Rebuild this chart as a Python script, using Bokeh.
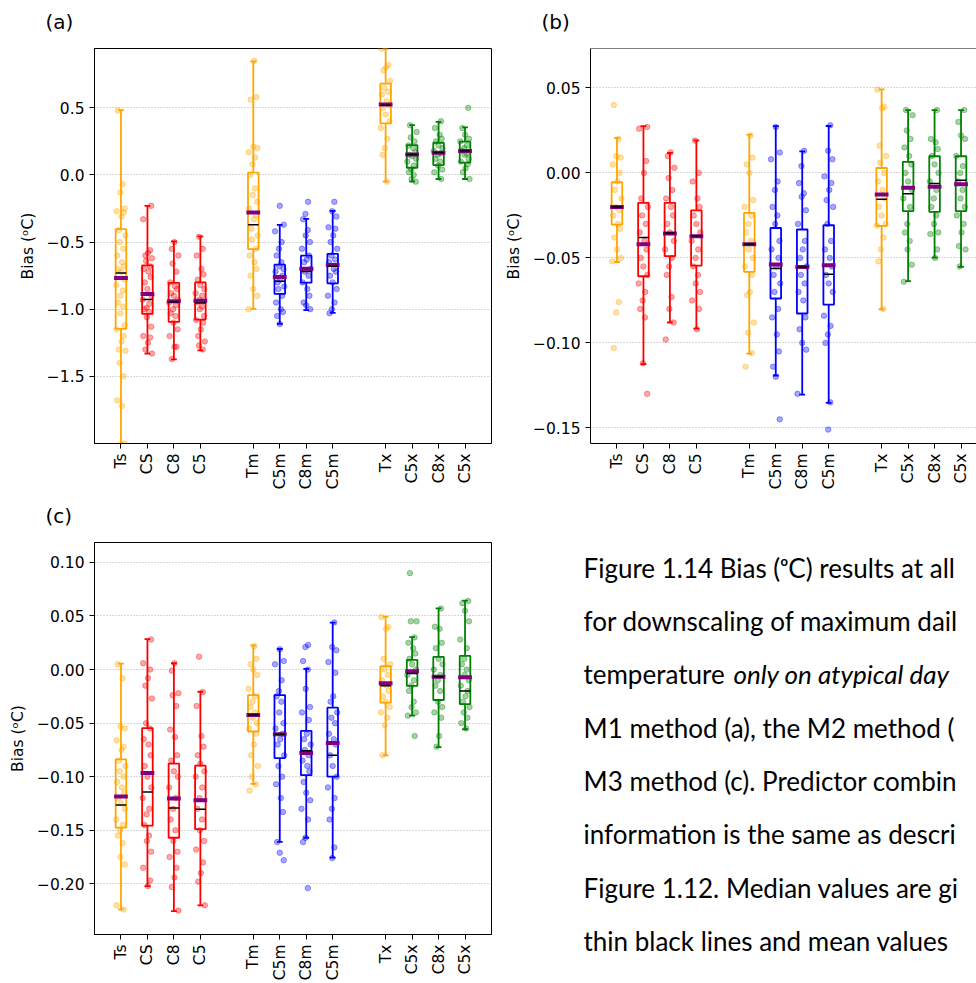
import math
from bokeh.plotting import figure
from bokeh.layouts import column, row
from bokeh.models import Range1d, FixedTicker, Span, ColumnDataSource
from bokeh.embed import file_html
from bokeh.resources import INLINE
from bokeh.core.properties import value

# ---------------- data ----------------
positions = [1, 2, 3, 4, 6, 7, 8, 9, 11, 12, 13, 14]
categories = ["Ts", "CS", "C8", "C5", "Tm", "C5m", "C8m", "C5m", "Tx", "C5x", "C8x", "C5x"]
box_colors = ["orange", "red", "red", "red", "orange", "blue", "blue", "blue",
              "orange", "green", "green", "green"]

# panel (a)
a_q1 = [-1.146, -1.035, -1.094, -1.077, -0.552, -0.886, -0.802, -0.807, 0.384, 0.054, 0.074, 0.092]
a_q3 = [-0.403, -0.673, -0.804, -0.800, 0.017, -0.668, -0.601, -0.587, 0.681, 0.223, 0.240, 0.248]
a_med = [-0.730, -0.928, -0.946, -0.953, -0.371, -0.792, -0.718, -0.680, 0.520, 0.153, 0.168, 0.178]
a_mean = [-0.767, -0.886, -0.940, -0.936, -0.280, -0.760, -0.698, -0.671, 0.525, 0.153, 0.166, 0.178]
a_wlo = [-2.000, -1.330, -1.374, -1.307, -0.998, -1.109, -1.007, -1.027, -0.050, -0.050, -0.030, -0.030]
a_whi = [0.483, -0.230, -0.495, -0.458, 0.846, -0.371, -0.327, -0.267, 0.940, 0.371, 0.396, 0.354]
a_pts = [
    [0.48, -0.07, -0.13, -0.25, -0.27, -0.28, -0.31, -0.41, -0.45, -0.5, -0.55, -0.6, -0.65, -0.68, -0.7,
     -0.72, -0.78, -0.82, -0.86, -0.9, -0.95, -0.98, -1.03, -1.12, -1.15, -1.2, -1.24, -1.3, -1.31, -1.4,
     -1.5, -1.68, -1.72, -2.0],
    [-0.23, -0.33, -0.56, -0.58, -0.6, -0.62, -0.64, -0.68, -0.7, -0.72, -0.76, -0.8, -0.85, -0.9, -0.93,
     -0.96, -0.99, -1.0, -1.02, -1.06, -1.13, -1.2, -1.21, -1.25, -1.3, -1.33],
    [-0.5, -0.55, -0.6, -0.66, -0.72, -0.8, -0.83, -0.85, -0.88, -0.9, -0.93, -0.95, -0.97, -1.0, -1.03,
     -1.05, -1.1, -1.15, -1.2, -1.28, -1.28, -1.37],
    [-0.46, -0.55, -0.6, -0.7, -0.74, -0.78, -0.82, -0.85, -0.88, -0.9, -0.93, -0.95, -0.98, -1.0, -1.05,
     -1.08, -1.1, -1.15, -1.2, -1.24, -1.27, -1.3],
    [0.85, 0.58, 0.56, 0.21, 0.2, 0.17, 0.13, 0.08, 0.0, -0.1, -0.15, -0.2, -0.25, -0.3, -0.33, -0.4, -0.45,
     -0.48, -0.55, -0.6, -0.65, -0.7, -0.75, -0.85, -0.9, -1.0],
    [-0.23, -0.37, -0.42, -0.5, -0.55, -0.6, -0.65, -0.68, -0.7, -0.72, -0.75, -0.78, -0.8, -0.83, -0.85,
     -0.9, -0.95, -1.0, -1.02, -1.05, -1.11],
    [-0.2, -0.29, -0.33, -0.41, -0.45, -0.5, -0.55, -0.6, -0.63, -0.65, -0.7, -0.72, -0.75, -0.8, -0.85,
     -0.9, -0.95, -0.97, -1.0],
    [-0.2, -0.27, -0.31, -0.39, -0.4, -0.45, -0.5, -0.55, -0.6, -0.63, -0.65, -0.7, -0.72, -0.75, -0.8,
     -0.85, -0.9, -0.95, -1.0, -1.03],
    [0.94, 0.82, 0.8, 0.78, 0.7, 0.65, 0.62, 0.6, 0.55, 0.52, 0.5, 0.45, 0.4, 0.35, 0.27, 0.2, 0.15, -0.05],
    [0.37, 0.32, 0.28, 0.25, 0.22, 0.2, 0.17, 0.15, 0.14, 0.12, 0.1, 0.07, 0.04, 0.02, 0.0, -0.03, -0.05],
    [0.4, 0.35, 0.3, 0.27, 0.25, 0.22, 0.2, 0.18, 0.16, 0.15, 0.12, 0.1, 0.07, 0.04, 0.02, -0.03],
    [0.5, 0.35, 0.3, 0.27, 0.25, 0.22, 0.2, 0.18, 0.16, 0.15, 0.12, 0.1, 0.08, 0.05, 0.02, -0.03],
]
a_yticks = [0.5, 0.0, -0.5, -1.0, -1.5]
a_ylabels = ["0.5", "0.0", "\u22120.5", "\u22121.0", "\u22121.5"]

# panel (b)
b_q1 = [-0.0304, -0.0608, -0.049, -0.0545, -0.0582, -0.0739, -0.0827, -0.0775, -0.0312, -0.0225, -0.0229, -0.0225]
b_q3 = [-0.0055, -0.0176, -0.0176, -0.022, -0.0235, -0.0324, -0.0333, -0.0308, 0.0029, 0.0065, 0.0098, 0.0098]
b_med = [-0.020, -0.038, -0.0353, -0.0369, -0.042, -0.0563, -0.0553, -0.0596, -0.0155, -0.0122, -0.0063, -0.0043]
b_mean = [-0.020, -0.042, -0.0357, -0.0373, -0.042, -0.0539, -0.0553, -0.0543, -0.0127, -0.0088, -0.0082, -0.0067]
b_wlo = [-0.0524, -0.1125, -0.088, -0.0916, -0.1063, -0.1192, -0.1304, -0.1353, -0.0802, -0.0637, -0.0498, -0.0553]
b_whi = [0.0206, 0.0275, 0.0118, 0.0192, 0.0225, 0.0275, 0.0127, 0.0276, 0.0492, 0.0369, 0.0369, 0.0369]
b_pts = [
    [0.04, 0.02, 0.01, 0.009, 0.005, 0.0, -0.005, -0.01, -0.015, -0.02, -0.022, -0.025, -0.03, -0.033,
     -0.038, -0.045, -0.05, -0.052, -0.076, -0.082, -0.103],
    [0.027, 0.026, 0.007, 0.0, -0.015, -0.02, -0.025, -0.03, -0.035, -0.04, -0.045, -0.05, -0.055, -0.06,
     -0.065, -0.07, -0.075, -0.08, -0.085, -0.112, -0.13],
    [0.012, 0.01, 0.003, -0.003, -0.01, -0.015, -0.02, -0.025, -0.03, -0.035, -0.04, -0.045, -0.05, -0.055,
     -0.06, -0.073, -0.08, -0.088, -0.098],
    [0.019, 0.0, -0.005, -0.015, -0.02, -0.025, -0.03, -0.035, -0.04, -0.045, -0.05, -0.055, -0.06, -0.065,
     -0.07, -0.075, -0.08, -0.092],
    [0.022, 0.009, 0.005, 0.0, -0.016, -0.02, -0.025, -0.03, -0.035, -0.04, -0.045, -0.05, -0.055, -0.06,
     -0.07, -0.072, -0.088, -0.094, -0.106, -0.114],
    [0.027, 0.012, 0.008, -0.005, -0.01, -0.02, -0.025, -0.03, -0.04, -0.045, -0.05, -0.055, -0.06, -0.065,
     -0.07, -0.08, -0.085, -0.095, -0.105, -0.114, -0.12, -0.145],
    [0.013, 0.004, -0.006, -0.012, -0.014, -0.022, -0.03, -0.04, -0.045, -0.05, -0.055, -0.06, -0.065, -0.07,
     -0.075, -0.085, -0.092, -0.1, -0.104, -0.13],
    [0.028, 0.013, 0.008, -0.002, -0.006, -0.01, -0.016, -0.02, -0.03, -0.04, -0.045, -0.05, -0.055, -0.06,
     -0.065, -0.07, -0.084, -0.09, -0.095, -0.1, -0.135, -0.151],
    [0.049, 0.039, 0.038, 0.016, 0.01, 0.006, 0.0, -0.005, -0.01, -0.015, -0.02, -0.025, -0.03, -0.031,
     -0.038, -0.045, -0.052, -0.08],
    [0.037, 0.034, 0.025, 0.02, 0.015, 0.01, 0.005, 0.0, -0.005, -0.01, -0.015, -0.02, -0.03, -0.035, -0.04,
     -0.045, -0.054, -0.064],
    [0.037, 0.02, 0.018, 0.014, 0.01, 0.005, 0.0, -0.005, -0.01, -0.015, -0.02, -0.025, -0.03, -0.035,
     -0.036, -0.045, -0.05],
    [0.037, 0.03, 0.022, 0.02, 0.01, 0.004, 0.0, -0.005, -0.01, -0.015, -0.02, -0.025, -0.03, -0.035, -0.043,
     -0.045, -0.055],
]
b_yticks = [0.05, 0.0, -0.05, -0.10, -0.15]
b_ylabels = ["0.05", "0.00", "\u22120.05", "\u22120.10", "\u22120.15"]

# panel (c)
c_q1 = [-0.1475, -0.1456, -0.157, -0.149, -0.0578, -0.0826, -0.0986, -0.0999, -0.0309, -0.0152, -0.0284, -0.0322]
c_q3 = [-0.0838, -0.0547, -0.0878, -0.0897, -0.0238, -0.0238, -0.0572, -0.0356, 0.0031, 0.009, 0.0118, 0.0127]
c_med = [-0.1265, -0.1144, -0.1293, -0.1305, -0.0424, -0.0603, -0.0758, -0.0801, -0.0152, -0.0037, -0.0068, -0.0201]
c_mean = [-0.1184, -0.0965, -0.1203, -0.1221, -0.0424, -0.0603, -0.0779, -0.0686, -0.0127, -0.0015, -0.0068, -0.0071]
c_wlo = [-0.2239, -0.2022, -0.2254, -0.2202, -0.1067, -0.1608, -0.157, -0.1756, -0.0801, -0.043, -0.0724, -0.0557]
c_whi = [0.0056, 0.0284, 0.0059, -0.0207, 0.0226, 0.0192, 0.0006, 0.0439, 0.0495, 0.0303, 0.0572, 0.0643]
c_pts = [
    [0.005, -0.008, -0.053, -0.055, -0.066, -0.072, -0.075, -0.085, -0.09, -0.095, -0.1, -0.105, -0.11, -0.115,
     -0.12, -0.125, -0.13, -0.14, -0.145, -0.15, -0.155, -0.162, -0.175, -0.182, -0.22, -0.224],
    [0.028, 0.006, 0.0, -0.008, -0.015, -0.027, -0.05, -0.055, -0.065, -0.07, -0.08, -0.09, -0.1, -0.11,
     -0.12, -0.13, -0.135, -0.145, -0.155, -0.16, -0.17, -0.185, -0.197, -0.202],
    [0.006, -0.001, -0.022, -0.024, -0.034, -0.056, -0.063, -0.08, -0.085, -0.095, -0.1, -0.11, -0.12, -0.13,
     -0.14, -0.15, -0.16, -0.17, -0.175, -0.185, -0.194, -0.203, -0.225],
    [0.012, -0.021, -0.034, -0.062, -0.072, -0.08, -0.088, -0.095, -0.1, -0.11, -0.12, -0.13, -0.14, -0.15,
     -0.16, -0.168, -0.18, -0.19, -0.198, -0.22],
    [0.022, 0.01, 0.005, 0.0, -0.005, -0.018, -0.025, -0.03, -0.035, -0.04, -0.045, -0.05, -0.055, -0.06,
     -0.07, -0.08, -0.09, -0.1, -0.107, -0.113],
    [0.019, 0.008, 0.005, -0.01, -0.02, -0.025, -0.03, -0.04, -0.05, -0.055, -0.06, -0.065, -0.07, -0.08,
     -0.09, -0.1, -0.107, -0.12, -0.133, -0.161, -0.171, -0.178],
    [0.023, 0.021, 0.008, 0.0, -0.018, -0.035, -0.04, -0.047, -0.06, -0.065, -0.07, -0.075, -0.08, -0.085,
     -0.09, -0.095, -0.105, -0.115, -0.122, -0.13, -0.14, -0.157, -0.161, -0.204],
    [0.044, 0.021, 0.018, 0.007, -0.003, -0.025, -0.03, -0.04, -0.045, -0.05, -0.06, -0.065, -0.07, -0.08,
     -0.09, -0.1, -0.11, -0.12, -0.13, -0.14, -0.166, -0.176],
    [0.049, 0.04, 0.038, 0.01, 0.005, 0.0, -0.005, -0.01, -0.015, -0.02, -0.025, -0.03, -0.035, -0.04,
     -0.045, -0.052, -0.08],
    [0.09, 0.045, 0.045, 0.03, 0.025, 0.02, 0.015, 0.01, 0.005, 0.0, -0.005, -0.01, -0.015, -0.02, -0.03,
     -0.035, -0.04, -0.043, -0.062],
    [0.057, 0.04, 0.038, 0.025, 0.02, 0.01, 0.005, 0.0, -0.005, -0.01, -0.015, -0.02, -0.03, -0.035, -0.04,
     -0.045, -0.062, -0.072],
    [0.064, 0.062, 0.055, 0.045, 0.028, 0.02, 0.01, 0.005, 0.0, -0.005, -0.01, -0.015, -0.02, -0.025, -0.03,
     -0.035, -0.04, -0.045, -0.05, -0.055],
]
c_yticks = [0.10, 0.05, 0.0, -0.05, -0.10, -0.15, -0.20]
c_ylabels = ["0.10", "0.05", "0.00", "\u22120.05", "\u22120.10", "\u22120.15", "\u22120.20"]

panel_letters_top = ["(a)", "(b)"]
panel_letters_bottom = ["(c)"]

caption_lines = [
    "Figure 1.14 Bias (\u1d52C) results at all",
    "for downscaling of maximum dail",
    "temperature",
    "M1 method (a), the M2 method (",
    "M3 method (c). Predictor combin",
    "information is the same as descri",
    "Figure 1.12. Median values are gi",
    "thin black lines and mean values",
]
caption_italic = "only on atypical day"

# ---------------- style ----------------
JITTER = [-0.12, 0.06, -0.02, 0.14, -0.16, 0.10, 0.02, -0.08, 0.17, -0.05, 0.09, -0.14, 0.04, 0.12, -0.10,
          0.0, 0.15, -0.18, 0.07, -0.03]
TICK_FONT = "DejaVu Sans"
TICK_SIZE = "15.5px"
MEAN_COLOR = "#800080"
BOX_HALF = 0.2
CAP_HALF = 0.11
MEAN_HALF = 0.26
CAP_FONT = "Lato"
CAP_SIZE = "26px"
W = 976


def text_canvas(width, height):
    """Axis-free figure whose data units are pixels (y downward)."""
    f = figure(width=width, height=height, x_range=Range1d(0, width), y_range=Range1d(height, 0),
               output_backend="svg", toolbar_location=None, title=None,
               min_border_left=0, min_border_right=0, min_border_top=0, min_border_bottom=0,
               x_axis_location=None, y_axis_location=None)
    f.frame_align = False
    f.grid.visible = False
    f.outline_line_color = None
    return f


def make_panel(q1, q3, med, mean, wlo, whi, pts, yticks, ylabels, yrange,
               width, height, border, xend, outline=True):
    p = figure(width=width, height=height, x_range=Range1d(0, xend), y_range=Range1d(*yrange),
               output_backend="svg", toolbar_location=None, title=None,
               min_border_left=border[0], min_border_right=border[1],
               min_border_top=border[2], min_border_bottom=border[3])
    x = positions
    src = ColumnDataSource(dict(
        x=x, q1=q1, q3=q3, med=med, mean=mean, wlo=wlo, whi=whi, color=box_colors,
        bl=[v - BOX_HALF for v in x], br=[v + BOX_HALF for v in x],
        cl=[v - CAP_HALF for v in x], cr=[v + CAP_HALF for v in x],
        ml=[v - MEAN_HALF for v in x], mr=[v + MEAN_HALF for v in x],
    ))
    # whiskers and caps
    p.segment(x0="x", y0="q3", x1="x", y1="whi", line_color="color", line_width=1.8, source=src)
    p.segment(x0="x", y0="q1", x1="x", y1="wlo", line_color="color", line_width=1.8, source=src)
    p.segment(x0="cl", y0="whi", x1="cr", y1="whi", line_color="color", line_width=1.8, source=src)
    p.segment(x0="cl", y0="wlo", x1="cr", y1="wlo", line_color="color", line_width=1.8, source=src)
    # boxes
    p.quad(left="bl", right="br", top="q3", bottom="q1", fill_color=None,
           line_color="color", line_width=1.8, source=src)
    # dots
    dx, dy, dc = [], [], []
    for i, vals in enumerate(pts):
        for j, v in enumerate(vals):
            dx.append(x[i] + JITTER[(j + 3 * i) % len(JITTER)])
            dy.append(v)
            dc.append(box_colors[i])
    p.scatter(x=dx, y=dy, size=5.5, fill_color=dc, line_color=dc, fill_alpha=0.35, line_alpha=0.35)
    # mean + median
    p.segment(x0="ml", y0="mean", x1="mr", y1="mean", line_color=MEAN_COLOR, line_width=4, source=src)
    p.segment(x0="bl", y0="med", x1="br", y1="med", line_color="black", line_width=1.5, source=src)

    # axes
    p.xaxis.ticker = FixedTicker(ticks=positions)
    p.xaxis.major_label_overrides = {pp: c for pp, c in zip(positions, categories)}
    p.xaxis.major_label_orientation = math.pi / 2
    p.yaxis.ticker = FixedTicker(ticks=yticks)
    p.yaxis.major_label_overrides = {t: l for t, l in zip(yticks, ylabels)}
    p.yaxis.axis_label = "Bias (\u1d52C)"
    p.yaxis.axis_label_text_font = TICK_FONT
    p.yaxis.axis_label_text_font_size = TICK_SIZE
    p.yaxis.axis_label_text_font_style = "normal"
    p.yaxis.axis_label_text_color = "black"
    p.yaxis.axis_label_standoff = 7
    for ax in (p.xaxis, p.yaxis):
        ax.major_tick_out = 5
        ax.major_tick_in = 0
        ax.minor_tick_line_color = None
        ax.axis_line_color = "black"
        ax.major_tick_line_color = "black"
        ax.major_label_text_color = "black"
        ax.major_label_text_font = TICK_FONT
        ax.major_label_text_font_size = TICK_SIZE
        ax.major_label_standoff = 5
    p.xgrid.visible = False
    p.ygrid.grid_line_color = "#9a9a9a"
    p.ygrid.grid_line_dash = "1 2"
    p.ygrid.grid_line_width = 0.8
    if outline:
        p.outline_line_color = "black"
        p.outline_line_width = 1
        p.outline_line_alpha = 1
    else:
        p.outline_line_color = None
        p.add_layout(Span(location=yrange[1], dimension="width", line_color="black", line_width=1.2))
    return p


# header strips holding the panel letters
hdr1 = text_canvas(W, 40)
hdr1.text(x=[45, 541], y=[21, 21], text=panel_letters_top, text_font=value("DejaVu Sans"),
          text_font_size="20px", text_baseline="middle", text_align="left", text_color="black")
hdr2 = text_canvas(W, 30)
hdr2.text(x=[45], y=[15], text=panel_letters_bottom, text_font=value("DejaVu Sans"),
          text_font_size="20px", text_baseline="middle", text_align="left", text_color="black")

# row 1 spans page y 40..500, row 2 spans 530..983
pa = make_panel(a_q1, a_q3, a_med, a_mean, a_wlo, a_whi, a_pts, a_yticks, a_ylabels,
                (-2.0, 0.942), 500, 460, (94, 9, 8, 57), 15)
pb = make_panel(b_q1, b_q3, b_med, b_mean, b_wlo, b_whi, b_pts, b_yticks, b_ylabels,
                (-0.1592, 0.0732), 476, 460, (90, 0, 8, 57), 386 / (397 / 15), outline=False)
pc = make_panel(c_q1, c_q3, c_med, c_mean, c_wlo, c_whi, c_pts, c_yticks, c_ylabels,
                (-0.2473, 0.1186), 500, 453, (94, 9, 12, 47), 15)

# caption (figure top is at page y 530); baselines in page pixels
cap = text_canvas(476, 453)
page_baselines = [567, 620.3, 673.6, 727, 780.3, 833.6, 887, 940.3]
base = [b - 530 for b in page_baselines]
cap.text(x=[83] * len(caption_lines), y=base, text=caption_lines, text_font=value(CAP_FONT),
         text_font_size=CAP_SIZE, text_baseline="alphabetic", text_align="left", text_color="black")
cap.text(x=[233], y=[base[2]], text=[caption_italic], text_font=value(CAP_FONT),
         text_font_size=CAP_SIZE, text_font_style="italic", text_baseline="alphabetic",
         text_align="left", text_color="black")

layout = column(hdr1, row(pa, pb), hdr2, row(pc, cap))
open("out.html", "w").write(file_html(layout, INLINE, title="Figure 1.14"))
